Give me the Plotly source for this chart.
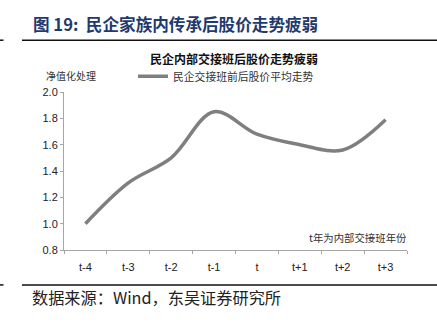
import plotly.graph_objects as go

# Average stock-price path around the in-family succession year (net value, t-4 = 1.0)
periods = ["t-4", "t-3", "t-2", "t-1", "t", "t+1", "t+2", "t+3"]
net_value = [1.00, 1.31, 1.50, 1.85, 1.68, 1.60, 1.56, 1.79]
series_name = "民企交接班前后股价平均走势"
y_ticks = [0.8, 1.0, 1.2, 1.4, 1.6, 1.8, 2.0]

W, H = 437, 328
CJK = "Noto Sans CJK SC"
LAT = "Liberation Sans"


def px_x(x):
    return x / W


def px_y(y):
    return (H - y) / H


fig = go.Figure()
fig.add_trace(go.Scatter(
    x=periods, y=net_value, mode="lines", name=series_name,
    line=dict(color="#7f7f7f", width=3.5, shape="spline", smoothing=1.0),
    showlegend=True,
))

axis_grey = "#a6a6a6"
fig.update_layout(
    width=W, height=H,
    margin=dict(l=0, r=0, t=0, b=0),
    paper_bgcolor="white", plot_bgcolor="white",
    font=dict(family=LAT, size=11, color="#222222"),
    xaxis=dict(
        domain=[px_x(64), px_x(407)],
        type="category", range=[-0.5, 7.5],
        showline=True, linecolor=axis_grey, linewidth=1,
        ticks="outside", tickson="boundaries", ticklen=3, tickcolor=axis_grey,
        ticklabelstandoff=7,
        showgrid=False, zeroline=False,
        tickfont=dict(family=LAT, size=11, color="#222222"),
    ),
    yaxis=dict(
        domain=[px_y(253.3), px_y(89.3)],
        range=[0.8, 2.0], tickvals=y_ticks, tickformat=".1f",
        showline=True, linecolor=axis_grey, linewidth=1,
        ticks="outside", ticklen=3, tickcolor=axis_grey,
        showgrid=False, zeroline=False,
        tickfont=dict(family=LAT, size=11, color="#222222"),
    ),
    legend=dict(
        x=px_x(133), y=px_y(73), xanchor="left", yanchor="middle",
        orientation="h", bgcolor="rgba(0,0,0,0)",
        font=dict(family=CJK, size=10.8, color="#333333"),
        itemwidth=30,
    ),
    shapes=[
        dict(type="line", xref="paper", yref="paper",
             x0=px_x(22), x1=1, y0=px_y(35.5), y1=px_y(35.5),
             line=dict(color="#111111", width=1.5)),
        dict(type="line", xref="paper", yref="paper",
             x0=0, x1=px_x(3.5), y0=px_y(35.5), y1=px_y(35.5),
             line=dict(color="#111111", width=1.5)),
        dict(type="line", xref="paper", yref="paper",
             x0=px_x(22), x1=1, y0=px_y(289.5), y1=px_y(289.5),
             line=dict(color="#111111", width=1.5)),
        dict(type="line", xref="paper", yref="paper",
             x0=0, x1=px_x(3.5), y0=px_y(289.5), y1=px_y(289.5),
             line=dict(color="#111111", width=1.5)),
    ],
    annotations=[
        dict(text="<b>图 19:  民企家族内传承后股价走势疲弱</b>",
             xref="paper", yref="paper", x=px_x(31), y=px_y(19),
             xanchor="left", yanchor="middle", showarrow=False,
             font=dict(family=CJK, size=16.6, color="#1f3a6e")),
        dict(text="<b>民企内部交接班后股价走势疲弱</b>",
             xref="paper", yref="paper", x=px_x(234), y=px_y(55),
             xanchor="center", yanchor="middle", showarrow=False,
             font=dict(family=CJK, size=12, color="#111111")),
        dict(text="净值化处理",
             xref="paper", yref="paper", x=px_x(71), y=px_y(72),
             xanchor="center", yanchor="middle", showarrow=False,
             font=dict(family=CJK, size=10, color="#333333")),
        dict(text="t年为内部交接班年份",
             xref="paper", yref="paper", x=px_x(409), y=px_y(240),
             xanchor="right", yanchor="middle", showarrow=False,
             font=dict(family=CJK, size=10.4, color="#333333")),
        dict(text="数据来源：Wind，东吴证券研究所",
             xref="paper", yref="paper", x=px_x(30), y=px_y(302),
             xanchor="left", yanchor="middle", showarrow=False,
             font=dict(family=CJK, size=16.2, color="#222222")),
    ],
)

fig.write_html("out.html")
